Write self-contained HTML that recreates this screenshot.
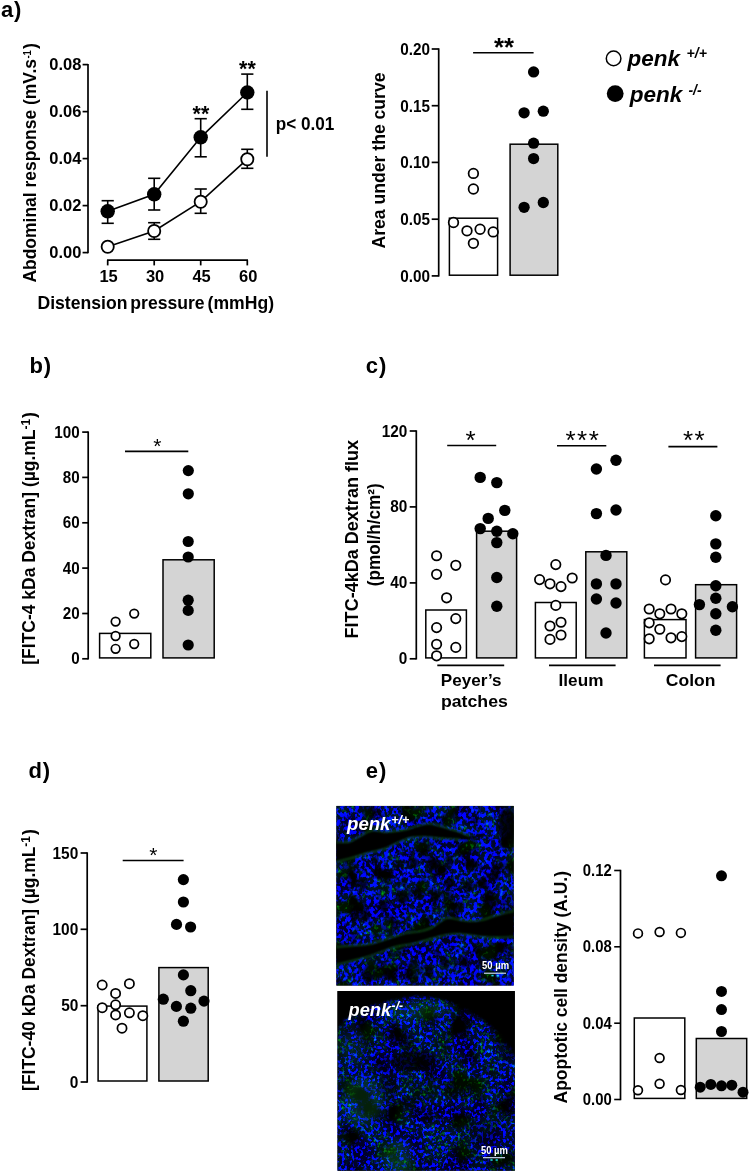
<!DOCTYPE html><html><head><meta charset="utf-8"><title>figure</title><style>html,body{margin:0;padding:0;background:#fff}svg{display:block;will-change:transform}</style></head><body>
<svg width="750" height="1172" viewBox="0 0 750 1172">
<rect width="750" height="1172" fill="#fff"/>
<text font-family="Liberation Sans, Arial, sans-serif" font-size="22" font-weight="bold" fill="#000" text-anchor="start" x="0.9" y="16.8" letter-spacing="0.9">a)</text>
<text font-family="Liberation Sans, Arial, sans-serif" font-size="22" font-weight="bold" fill="#000" text-anchor="start" x="29.4" y="373.4" letter-spacing="0.9">b)</text>
<text font-family="Liberation Sans, Arial, sans-serif" font-size="22" font-weight="bold" fill="#000" text-anchor="start" x="365.8" y="373.3" letter-spacing="0.9">c)</text>
<text font-family="Liberation Sans, Arial, sans-serif" font-size="22" font-weight="bold" fill="#000" text-anchor="start" x="28.4" y="778.1" letter-spacing="0.9">d)</text>
<text font-family="Liberation Sans, Arial, sans-serif" font-size="22" font-weight="bold" fill="#000" text-anchor="start" x="365.8" y="777.9" letter-spacing="0.9">e)</text>
<line x1="88" y1="63.89999999999999" x2="88" y2="253.29999999999998" stroke="#000" stroke-width="1.7" stroke-linecap="butt"/>
<line x1="82.6" y1="64.6" x2="88" y2="64.6" stroke="#000" stroke-width="1.7" stroke-linecap="butt"/>
<text font-family="Liberation Sans, Arial, sans-serif" font-size="16" font-weight="bold" fill="#000" text-anchor="end" textLength="32.08" lengthAdjust="spacingAndGlyphs" x="81.3" y="70.19999999999999" >0.08</text>
<line x1="82.6" y1="111.6" x2="88" y2="111.6" stroke="#000" stroke-width="1.7" stroke-linecap="butt"/>
<text font-family="Liberation Sans, Arial, sans-serif" font-size="16" font-weight="bold" fill="#000" text-anchor="end" textLength="32.08" lengthAdjust="spacingAndGlyphs" x="81.3" y="117.19999999999999" >0.06</text>
<line x1="82.6" y1="158.6" x2="88" y2="158.6" stroke="#000" stroke-width="1.7" stroke-linecap="butt"/>
<text font-family="Liberation Sans, Arial, sans-serif" font-size="16" font-weight="bold" fill="#000" text-anchor="end" textLength="32.08" lengthAdjust="spacingAndGlyphs" x="81.3" y="164.2" >0.04</text>
<line x1="82.6" y1="205.6" x2="88" y2="205.6" stroke="#000" stroke-width="1.7" stroke-linecap="butt"/>
<text font-family="Liberation Sans, Arial, sans-serif" font-size="16" font-weight="bold" fill="#000" text-anchor="end" textLength="32.08" lengthAdjust="spacingAndGlyphs" x="81.3" y="211.2" >0.02</text>
<line x1="82.6" y1="252.6" x2="88" y2="252.6" stroke="#000" stroke-width="1.7" stroke-linecap="butt"/>
<text font-family="Liberation Sans, Arial, sans-serif" font-size="16" font-weight="bold" fill="#000" text-anchor="end" textLength="32.08" lengthAdjust="spacingAndGlyphs" x="81.3" y="258.2" >0.00</text>
<line x1="107.0" y1="260.2" x2="248.0" y2="260.2" stroke="#000" stroke-width="1.7" stroke-linecap="butt"/>
<line x1="107.7" y1="260.2" x2="107.7" y2="265.4" stroke="#000" stroke-width="1.7" stroke-linecap="butt"/>
<text font-family="Liberation Sans, Arial, sans-serif" font-size="16" font-weight="bold" fill="#000" text-anchor="middle" textLength="18.33" lengthAdjust="spacingAndGlyphs" x="108.60000000000001" y="282.2" >15</text>
<line x1="154.2" y1="260.2" x2="154.2" y2="265.4" stroke="#000" stroke-width="1.7" stroke-linecap="butt"/>
<text font-family="Liberation Sans, Arial, sans-serif" font-size="16" font-weight="bold" fill="#000" text-anchor="middle" textLength="18.33" lengthAdjust="spacingAndGlyphs" x="155.1" y="282.2" >30</text>
<line x1="200.7" y1="260.2" x2="200.7" y2="265.4" stroke="#000" stroke-width="1.7" stroke-linecap="butt"/>
<text font-family="Liberation Sans, Arial, sans-serif" font-size="16" font-weight="bold" fill="#000" text-anchor="middle" textLength="18.33" lengthAdjust="spacingAndGlyphs" x="201.6" y="282.2" >45</text>
<line x1="247.3" y1="260.2" x2="247.3" y2="265.4" stroke="#000" stroke-width="1.7" stroke-linecap="butt"/>
<text font-family="Liberation Sans, Arial, sans-serif" font-size="16" font-weight="bold" fill="#000" text-anchor="middle" textLength="18.33" lengthAdjust="spacingAndGlyphs" x="248.20000000000002" y="282.2" >60</text>
<text font-family="Liberation Sans, Arial, sans-serif" font-size="18.1" font-weight="bold" fill="#000" text-anchor="start" textLength="236.5" lengthAdjust="spacingAndGlyphs" x="37.5" y="309.3" word-spacing="-2">Distension pressure (mmHg)</text>
<text font-family="Liberation Sans, Arial, sans-serif" font-size="18.1" font-weight="bold" fill="#000" text-anchor="start" textLength="223.6" lengthAdjust="spacingAndGlyphs" transform="translate(36,282.6) rotate(-90)" >Abdominal response (mV.s</text>
<text font-family="Liberation Sans, Arial, sans-serif" font-size="11" font-weight="bold" fill="#000" text-anchor="start" textLength="8.6" lengthAdjust="spacingAndGlyphs" transform="translate(30.6,58.6) rotate(-90)" >-1</text>
<text font-family="Liberation Sans, Arial, sans-serif" font-size="18.1" font-weight="bold" fill="#000" text-anchor="start" transform="translate(36,48.9) rotate(-90)" >)</text>
<polyline fill="none" stroke="#000" stroke-width="1.6" points="107.7,246.7 154.2,231 200.7,201.7 247.3,159.2"/>
<polyline fill="none" stroke="#000" stroke-width="1.6" points="107.7,211.3 154.2,194.3 200.7,137.3 247.3,92.5"/>
<line x1="154.2" y1="222.7" x2="154.2" y2="239.3" stroke="#000" stroke-width="1.6" stroke-linecap="butt"/>
<line x1="148.1" y1="222.7" x2="160.29999999999998" y2="222.7" stroke="#000" stroke-width="1.6" stroke-linecap="butt"/>
<line x1="148.1" y1="239.3" x2="160.29999999999998" y2="239.3" stroke="#000" stroke-width="1.6" stroke-linecap="butt"/>
<line x1="200.7" y1="189" x2="200.7" y2="213.3" stroke="#000" stroke-width="1.6" stroke-linecap="butt"/>
<line x1="194.6" y1="189" x2="206.79999999999998" y2="189" stroke="#000" stroke-width="1.6" stroke-linecap="butt"/>
<line x1="194.6" y1="213.3" x2="206.79999999999998" y2="213.3" stroke="#000" stroke-width="1.6" stroke-linecap="butt"/>
<line x1="247.3" y1="149.3" x2="247.3" y2="168.3" stroke="#000" stroke-width="1.6" stroke-linecap="butt"/>
<line x1="241.20000000000002" y1="149.3" x2="253.4" y2="149.3" stroke="#000" stroke-width="1.6" stroke-linecap="butt"/>
<line x1="241.20000000000002" y1="168.3" x2="253.4" y2="168.3" stroke="#000" stroke-width="1.6" stroke-linecap="butt"/>
<line x1="107.7" y1="200.7" x2="107.7" y2="223.3" stroke="#000" stroke-width="1.6" stroke-linecap="butt"/>
<line x1="101.60000000000001" y1="200.7" x2="113.8" y2="200.7" stroke="#000" stroke-width="1.6" stroke-linecap="butt"/>
<line x1="101.60000000000001" y1="223.3" x2="113.8" y2="223.3" stroke="#000" stroke-width="1.6" stroke-linecap="butt"/>
<line x1="154.2" y1="178.3" x2="154.2" y2="210" stroke="#000" stroke-width="1.6" stroke-linecap="butt"/>
<line x1="148.1" y1="178.3" x2="160.29999999999998" y2="178.3" stroke="#000" stroke-width="1.6" stroke-linecap="butt"/>
<line x1="148.1" y1="210" x2="160.29999999999998" y2="210" stroke="#000" stroke-width="1.6" stroke-linecap="butt"/>
<line x1="200.7" y1="118.7" x2="200.7" y2="156.8" stroke="#000" stroke-width="1.6" stroke-linecap="butt"/>
<line x1="194.6" y1="118.7" x2="206.79999999999998" y2="118.7" stroke="#000" stroke-width="1.6" stroke-linecap="butt"/>
<line x1="194.6" y1="156.8" x2="206.79999999999998" y2="156.8" stroke="#000" stroke-width="1.6" stroke-linecap="butt"/>
<line x1="247.3" y1="74.1" x2="247.3" y2="109.3" stroke="#000" stroke-width="1.6" stroke-linecap="butt"/>
<line x1="241.20000000000002" y1="74.1" x2="253.4" y2="74.1" stroke="#000" stroke-width="1.6" stroke-linecap="butt"/>
<line x1="241.20000000000002" y1="109.3" x2="253.4" y2="109.3" stroke="#000" stroke-width="1.6" stroke-linecap="butt"/>
<circle cx="107.7" cy="246.7" r="6.1" fill="#fff" stroke="#000" stroke-width="1.8"/>
<circle cx="154.2" cy="231" r="6.1" fill="#fff" stroke="#000" stroke-width="1.8"/>
<circle cx="200.7" cy="201.7" r="6.1" fill="#fff" stroke="#000" stroke-width="1.8"/>
<circle cx="247.3" cy="159.2" r="6.1" fill="#fff" stroke="#000" stroke-width="1.8"/>
<circle cx="107.7" cy="211.3" r="7.2" fill="#000"/>
<circle cx="154.2" cy="194.3" r="7.2" fill="#000"/>
<circle cx="200.7" cy="137.3" r="7.2" fill="#000"/>
<circle cx="247.3" cy="92.5" r="7.2" fill="#000"/>
<text font-family="Liberation Sans, Arial, sans-serif" font-size="22" font-weight="bold" fill="#000" text-anchor="middle" textLength="16.6" lengthAdjust="spacingAndGlyphs" x="200.9" y="121" >**</text>
<text font-family="Liberation Sans, Arial, sans-serif" font-size="22" font-weight="bold" fill="#000" text-anchor="middle" textLength="16.6" lengthAdjust="spacingAndGlyphs" x="247.4" y="75.8" >**</text>
<line x1="267" y1="90.7" x2="267" y2="156.8" stroke="#000" stroke-width="1.6" stroke-linecap="butt"/>
<text font-family="Liberation Sans, Arial, sans-serif" font-size="17.8" font-weight="bold" fill="#000" text-anchor="start" textLength="58.6" lengthAdjust="spacingAndGlyphs" x="275.7" y="130.1" >p&lt; 0.01</text>
<line x1="438.7" y1="48.3" x2="438.7" y2="276.59999999999997" stroke="#000" stroke-width="1.7" stroke-linecap="butt"/>
<line x1="431.7" y1="49" x2="438.7" y2="49" stroke="#000" stroke-width="1.7" stroke-linecap="butt"/>
<text font-family="Liberation Sans, Arial, sans-serif" font-size="16" font-weight="bold" fill="#000" text-anchor="end" textLength="29.74" lengthAdjust="spacingAndGlyphs" x="429.9" y="54.9" >0.20</text>
<line x1="431.7" y1="105.7" x2="438.7" y2="105.7" stroke="#000" stroke-width="1.7" stroke-linecap="butt"/>
<text font-family="Liberation Sans, Arial, sans-serif" font-size="16" font-weight="bold" fill="#000" text-anchor="end" textLength="29.74" lengthAdjust="spacingAndGlyphs" x="429.9" y="111.60000000000001" >0.15</text>
<line x1="431.7" y1="162.4" x2="438.7" y2="162.4" stroke="#000" stroke-width="1.7" stroke-linecap="butt"/>
<text font-family="Liberation Sans, Arial, sans-serif" font-size="16" font-weight="bold" fill="#000" text-anchor="end" textLength="29.74" lengthAdjust="spacingAndGlyphs" x="429.9" y="168.3" >0.10</text>
<line x1="431.7" y1="219.2" x2="438.7" y2="219.2" stroke="#000" stroke-width="1.7" stroke-linecap="butt"/>
<text font-family="Liberation Sans, Arial, sans-serif" font-size="16" font-weight="bold" fill="#000" text-anchor="end" textLength="29.74" lengthAdjust="spacingAndGlyphs" x="429.9" y="225.1" >0.05</text>
<line x1="431.7" y1="275.9" x2="438.7" y2="275.9" stroke="#000" stroke-width="1.7" stroke-linecap="butt"/>
<text font-family="Liberation Sans, Arial, sans-serif" font-size="16" font-weight="bold" fill="#000" text-anchor="end" textLength="29.74" lengthAdjust="spacingAndGlyphs" x="429.9" y="281.79999999999995" >0.00</text>
<rect x="449.4" y="218.2" width="48.200000000000045" height="57.0" fill="#fff" stroke="#000" stroke-width="1.5"/>
<rect x="510.1" y="144.2" width="47.69999999999993" height="131.0" fill="#d4d4d4" stroke="#000" stroke-width="1.5"/>
<circle cx="473.4" cy="173.4" r="4.8" fill="#fff" stroke="#000" stroke-width="1.75"/>
<circle cx="473.4" cy="189" r="4.8" fill="#fff" stroke="#000" stroke-width="1.75"/>
<circle cx="453.5" cy="222.5" r="4.8" fill="#fff" stroke="#000" stroke-width="1.75"/>
<circle cx="467" cy="230.8" r="4.8" fill="#fff" stroke="#000" stroke-width="1.75"/>
<circle cx="480.1" cy="229.2" r="4.8" fill="#fff" stroke="#000" stroke-width="1.75"/>
<circle cx="493.2" cy="231.9" r="4.8" fill="#fff" stroke="#000" stroke-width="1.75"/>
<circle cx="473.4" cy="243.3" r="4.8" fill="#fff" stroke="#000" stroke-width="1.75"/>
<circle cx="533.6" cy="71.9" r="5.65" fill="#000"/>
<circle cx="524.1" cy="112.8" r="5.65" fill="#000"/>
<circle cx="543.3" cy="111.2" r="5.65" fill="#000"/>
<circle cx="533.6" cy="143.2" r="5.65" fill="#000"/>
<circle cx="533.6" cy="158.6" r="5.65" fill="#000"/>
<circle cx="524.1" cy="207.3" r="5.65" fill="#000"/>
<circle cx="543.3" cy="202.5" r="5.65" fill="#000"/>
<line x1="473.1" y1="52.7" x2="533.6" y2="52.7" stroke="#000" stroke-width="1.6" stroke-linecap="butt"/>
<text font-family="Liberation Sans, Arial, sans-serif" font-size="25" font-weight="bold" fill="#000" text-anchor="middle" textLength="20" lengthAdjust="spacingAndGlyphs" x="504" y="55.8" >**</text>
<text font-family="Liberation Sans, Arial, sans-serif" font-size="18.1" font-weight="bold" fill="#000" text-anchor="start" textLength="176" lengthAdjust="spacingAndGlyphs" transform="translate(384.9,248.5) rotate(-90)" >Area under the curve</text>
<circle cx="613.6" cy="58.4" r="7.3" fill="#fff" stroke="#000" stroke-width="1.5"/>
<circle cx="615.2" cy="93.6" r="8.4" fill="#000"/>
<text font-family="Liberation Sans, Arial, sans-serif" font-size="22.3" font-weight="bold" fill="#000" text-anchor="start" font-style="italic" textLength="52.4" lengthAdjust="spacingAndGlyphs" x="627.5" y="65.5" >penk</text>
<text font-family="Liberation Sans, Arial, sans-serif" font-size="14.5" font-weight="bold" fill="#000" text-anchor="start" font-style="italic" textLength="20.4" lengthAdjust="spacingAndGlyphs" x="686.6" y="58.4" >+/+</text>
<text font-family="Liberation Sans, Arial, sans-serif" font-size="22.3" font-weight="bold" fill="#000" text-anchor="start" font-style="italic" textLength="52.6" lengthAdjust="spacingAndGlyphs" x="629.7" y="101.9" >penk</text>
<text font-family="Liberation Sans, Arial, sans-serif" font-size="14.5" font-weight="bold" fill="#000" text-anchor="start" font-style="italic" textLength="13.2" lengthAdjust="spacingAndGlyphs" x="688.4" y="94.6" >-/-</text>
<line x1="88.2" y1="431.40000000000003" x2="88.2" y2="659.5" stroke="#000" stroke-width="1.7" stroke-linecap="butt"/>
<line x1="82.2" y1="432.1" x2="88.2" y2="432.1" stroke="#000" stroke-width="1.7" stroke-linecap="butt"/>
<text font-family="Liberation Sans, Arial, sans-serif" font-size="16" font-weight="bold" fill="#000" text-anchor="end" textLength="25.36" lengthAdjust="spacingAndGlyphs" x="79.7" y="437.5" >100</text>
<line x1="82.2" y1="477.4" x2="88.2" y2="477.4" stroke="#000" stroke-width="1.7" stroke-linecap="butt"/>
<text font-family="Liberation Sans, Arial, sans-serif" font-size="16" font-weight="bold" fill="#000" text-anchor="end" textLength="16.91" lengthAdjust="spacingAndGlyphs" x="79.7" y="482.79999999999995" >80</text>
<line x1="82.2" y1="522.8" x2="88.2" y2="522.8" stroke="#000" stroke-width="1.7" stroke-linecap="butt"/>
<text font-family="Liberation Sans, Arial, sans-serif" font-size="16" font-weight="bold" fill="#000" text-anchor="end" textLength="16.91" lengthAdjust="spacingAndGlyphs" x="79.7" y="528.1999999999999" >60</text>
<line x1="82.2" y1="568.1" x2="88.2" y2="568.1" stroke="#000" stroke-width="1.7" stroke-linecap="butt"/>
<text font-family="Liberation Sans, Arial, sans-serif" font-size="16" font-weight="bold" fill="#000" text-anchor="end" textLength="16.91" lengthAdjust="spacingAndGlyphs" x="79.7" y="573.5" >40</text>
<line x1="82.2" y1="613.5" x2="88.2" y2="613.5" stroke="#000" stroke-width="1.7" stroke-linecap="butt"/>
<text font-family="Liberation Sans, Arial, sans-serif" font-size="16" font-weight="bold" fill="#000" text-anchor="end" textLength="16.91" lengthAdjust="spacingAndGlyphs" x="79.7" y="618.9" >20</text>
<line x1="82.2" y1="658.8" x2="88.2" y2="658.8" stroke="#000" stroke-width="1.7" stroke-linecap="butt"/>
<text font-family="Liberation Sans, Arial, sans-serif" font-size="16" font-weight="bold" fill="#000" text-anchor="end" textLength="8.45" lengthAdjust="spacingAndGlyphs" x="79.7" y="664.1999999999999" >0</text>
<rect x="99.6" y="633.4" width="51.20000000000002" height="24.5" fill="#fff" stroke="#000" stroke-width="1.5"/>
<rect x="163" y="559.8" width="51.19999999999999" height="98.10000000000002" fill="#d4d4d4" stroke="#000" stroke-width="1.5"/>
<circle cx="115.6" cy="621.6" r="4.3" fill="#fff" stroke="#000" stroke-width="1.7"/>
<circle cx="134.2" cy="613.6" r="4.3" fill="#fff" stroke="#000" stroke-width="1.7"/>
<circle cx="115.6" cy="636" r="4.3" fill="#fff" stroke="#000" stroke-width="1.7"/>
<circle cx="134.2" cy="644" r="4.3" fill="#fff" stroke="#000" stroke-width="1.7"/>
<circle cx="115.6" cy="648.8" r="4.3" fill="#fff" stroke="#000" stroke-width="1.7"/>
<circle cx="188.3" cy="470.6" r="5.6" fill="#000"/>
<circle cx="188.3" cy="493.8" r="5.6" fill="#000"/>
<circle cx="188.2" cy="541.5" r="5.6" fill="#000"/>
<circle cx="188.2" cy="557" r="5.6" fill="#000"/>
<circle cx="188.2" cy="600.2" r="5.6" fill="#000"/>
<circle cx="188.2" cy="610.4" r="5.6" fill="#000"/>
<circle cx="188.2" cy="645" r="5.6" fill="#000"/>
<line x1="125" y1="451.4" x2="188.3" y2="451.4" stroke="#000" stroke-width="1.6" stroke-linecap="butt"/>
<text font-family="Liberation Sans, Arial, sans-serif" font-size="21" font-weight="normal" fill="#000" text-anchor="start" x="153.3" y="452.9" >*</text>
<text font-family="Liberation Sans, Arial, sans-serif" font-size="17.8" font-weight="bold" fill="#000" text-anchor="start" textLength="235.2" lengthAdjust="spacingAndGlyphs" transform="translate(34.8,664.7) rotate(-90)" >[FITC-4 kDa Dextran] (µg.mL</text>
<text font-family="Liberation Sans, Arial, sans-serif" font-size="12" font-weight="bold" fill="#000" text-anchor="start" transform="translate(29.7,429.6) rotate(-90)" >-1</text>
<text font-family="Liberation Sans, Arial, sans-serif" font-size="17.8" font-weight="bold" fill="#000" text-anchor="start" transform="translate(34.8,417.9) rotate(-90)" >)</text>
<line x1="416.3" y1="430.3" x2="416.3" y2="659.5" stroke="#000" stroke-width="1.7" stroke-linecap="butt"/>
<line x1="409.7" y1="431" x2="416.3" y2="431" stroke="#000" stroke-width="1.7" stroke-linecap="butt"/>
<text font-family="Liberation Sans, Arial, sans-serif" font-size="16" font-weight="bold" fill="#000" text-anchor="end" textLength="25.63" lengthAdjust="spacingAndGlyphs" x="407.3" y="436.5" >120</text>
<line x1="409.7" y1="506.9" x2="416.3" y2="506.9" stroke="#000" stroke-width="1.7" stroke-linecap="butt"/>
<text font-family="Liberation Sans, Arial, sans-serif" font-size="16" font-weight="bold" fill="#000" text-anchor="end" textLength="17.09" lengthAdjust="spacingAndGlyphs" x="407.3" y="512.4" >80</text>
<line x1="409.7" y1="582.9" x2="416.3" y2="582.9" stroke="#000" stroke-width="1.7" stroke-linecap="butt"/>
<text font-family="Liberation Sans, Arial, sans-serif" font-size="16" font-weight="bold" fill="#000" text-anchor="end" textLength="17.09" lengthAdjust="spacingAndGlyphs" x="407.3" y="588.4" >40</text>
<line x1="409.7" y1="658.8" x2="416.3" y2="658.8" stroke="#000" stroke-width="1.7" stroke-linecap="butt"/>
<text font-family="Liberation Sans, Arial, sans-serif" font-size="16" font-weight="bold" fill="#000" text-anchor="end" textLength="8.54" lengthAdjust="spacingAndGlyphs" x="407.3" y="664.3" >0</text>
<rect x="425.8" y="610" width="40.599999999999966" height="47.89999999999998" fill="#fff" stroke="#000" stroke-width="1.5"/>
<rect x="476.6" y="531.2" width="40.0" height="126.69999999999993" fill="#d4d4d4" stroke="#000" stroke-width="1.5"/>
<rect x="535.4" y="602.5" width="40.80000000000007" height="55.39999999999998" fill="#fff" stroke="#000" stroke-width="1.5"/>
<rect x="585.8" y="551.8" width="41.0" height="106.10000000000002" fill="#d4d4d4" stroke="#000" stroke-width="1.5"/>
<rect x="644.4" y="619.6" width="41.60000000000002" height="38.299999999999955" fill="#fff" stroke="#000" stroke-width="1.5"/>
<rect x="695.6" y="584.7" width="41.0" height="73.19999999999993" fill="#d4d4d4" stroke="#000" stroke-width="1.5"/>
<circle cx="436.6" cy="555.7" r="4.7" fill="#fff" stroke="#000" stroke-width="1.75"/>
<circle cx="436.6" cy="574.3" r="4.7" fill="#fff" stroke="#000" stroke-width="1.75"/>
<circle cx="455.8" cy="565.3" r="4.7" fill="#fff" stroke="#000" stroke-width="1.75"/>
<circle cx="446.6" cy="597.8" r="4.7" fill="#fff" stroke="#000" stroke-width="1.75"/>
<circle cx="455.8" cy="618.6" r="4.7" fill="#fff" stroke="#000" stroke-width="1.75"/>
<circle cx="436.6" cy="627.6" r="4.7" fill="#fff" stroke="#000" stroke-width="1.75"/>
<circle cx="436.6" cy="644.2" r="4.7" fill="#fff" stroke="#000" stroke-width="1.75"/>
<circle cx="455.8" cy="647.4" r="4.7" fill="#fff" stroke="#000" stroke-width="1.75"/>
<circle cx="436.6" cy="655.8" r="4.7" fill="#fff" stroke="#000" stroke-width="1.75"/>
<circle cx="555.8" cy="564.6" r="4.7" fill="#fff" stroke="#000" stroke-width="1.75"/>
<circle cx="539.6" cy="579.6" r="4.7" fill="#fff" stroke="#000" stroke-width="1.75"/>
<circle cx="550" cy="583.8" r="4.7" fill="#fff" stroke="#000" stroke-width="1.75"/>
<circle cx="561" cy="586.6" r="4.7" fill="#fff" stroke="#000" stroke-width="1.75"/>
<circle cx="572.2" cy="578" r="4.7" fill="#fff" stroke="#000" stroke-width="1.75"/>
<circle cx="555.8" cy="605.4" r="4.7" fill="#fff" stroke="#000" stroke-width="1.75"/>
<circle cx="561" cy="622.2" r="4.7" fill="#fff" stroke="#000" stroke-width="1.75"/>
<circle cx="550" cy="626" r="4.7" fill="#fff" stroke="#000" stroke-width="1.75"/>
<circle cx="561" cy="635" r="4.7" fill="#fff" stroke="#000" stroke-width="1.75"/>
<circle cx="550" cy="639.4" r="4.7" fill="#fff" stroke="#000" stroke-width="1.75"/>
<circle cx="665.5" cy="579.9" r="4.7" fill="#fff" stroke="#000" stroke-width="1.75"/>
<circle cx="649.2" cy="609" r="4.7" fill="#fff" stroke="#000" stroke-width="1.75"/>
<circle cx="659.8" cy="613.8" r="4.7" fill="#fff" stroke="#000" stroke-width="1.75"/>
<circle cx="671" cy="609" r="4.7" fill="#fff" stroke="#000" stroke-width="1.75"/>
<circle cx="681.8" cy="613.8" r="4.7" fill="#fff" stroke="#000" stroke-width="1.75"/>
<circle cx="649.2" cy="622.8" r="4.7" fill="#fff" stroke="#000" stroke-width="1.75"/>
<circle cx="659.8" cy="629.2" r="4.7" fill="#fff" stroke="#000" stroke-width="1.75"/>
<circle cx="649.2" cy="638.8" r="4.7" fill="#fff" stroke="#000" stroke-width="1.75"/>
<circle cx="671" cy="637.8" r="4.7" fill="#fff" stroke="#000" stroke-width="1.75"/>
<circle cx="681.8" cy="636.6" r="4.7" fill="#fff" stroke="#000" stroke-width="1.75"/>
<circle cx="480.2" cy="477.4" r="5.7" fill="#000"/>
<circle cx="496.8" cy="482.6" r="5.7" fill="#000"/>
<circle cx="504.8" cy="510.4" r="5.7" fill="#000"/>
<circle cx="488.2" cy="518.4" r="5.7" fill="#000"/>
<circle cx="480.2" cy="528.6" r="5.7" fill="#000"/>
<circle cx="496.8" cy="531.2" r="5.7" fill="#000"/>
<circle cx="512.8" cy="533.8" r="5.7" fill="#000"/>
<circle cx="496.8" cy="542.6" r="5.7" fill="#000"/>
<circle cx="496.8" cy="577.5" r="5.7" fill="#000"/>
<circle cx="496.8" cy="606.2" r="5.7" fill="#000"/>
<circle cx="596.4" cy="469" r="5.7" fill="#000"/>
<circle cx="616" cy="460.2" r="5.7" fill="#000"/>
<circle cx="596.4" cy="513.6" r="5.7" fill="#000"/>
<circle cx="616" cy="510" r="5.7" fill="#000"/>
<circle cx="606" cy="555.4" r="5.7" fill="#000"/>
<circle cx="596.4" cy="583.9" r="5.7" fill="#000"/>
<circle cx="616" cy="583.9" r="5.7" fill="#000"/>
<circle cx="596.4" cy="599" r="5.7" fill="#000"/>
<circle cx="616" cy="603" r="5.7" fill="#000"/>
<circle cx="606" cy="633" r="5.7" fill="#000"/>
<circle cx="715.8" cy="515.8" r="5.7" fill="#000"/>
<circle cx="715.8" cy="543.9" r="5.7" fill="#000"/>
<circle cx="715.8" cy="557.3" r="5.7" fill="#000"/>
<circle cx="715.8" cy="585.8" r="5.7" fill="#000"/>
<circle cx="715.8" cy="598.2" r="5.7" fill="#000"/>
<circle cx="699.4" cy="604.6" r="5.7" fill="#000"/>
<circle cx="732.4" cy="606.8" r="5.7" fill="#000"/>
<circle cx="715.8" cy="613.8" r="5.7" fill="#000"/>
<circle cx="715.8" cy="630.2" r="5.7" fill="#000"/>
<line x1="447.2" y1="445.5" x2="496.2" y2="445.5" stroke="#000" stroke-width="1.6" stroke-linecap="butt"/>
<line x1="557" y1="445.7" x2="606.3" y2="445.7" stroke="#000" stroke-width="1.6" stroke-linecap="butt"/>
<line x1="668.4" y1="446.6" x2="717.4" y2="446.6" stroke="#000" stroke-width="1.6" stroke-linecap="butt"/>
<text font-family="Liberation Sans, Arial, sans-serif" font-size="26" font-weight="normal" fill="#000" text-anchor="start" x="465.5" y="448.8" >*</text>
<text font-family="Liberation Sans, Arial, sans-serif" font-size="26" font-weight="normal" fill="#000" text-anchor="start" x="565.5" y="448.8" letter-spacing="1.5">***</text>
<text font-family="Liberation Sans, Arial, sans-serif" font-size="26" font-weight="normal" fill="#000" text-anchor="start" x="682.9" y="449.3" letter-spacing="1.5">**</text>
<line x1="437.3" y1="665.4" x2="504.2" y2="665.4" stroke="#000" stroke-width="1.6" stroke-linecap="butt"/>
<line x1="549" y1="665.4" x2="615.6" y2="665.4" stroke="#000" stroke-width="1.6" stroke-linecap="butt"/>
<line x1="654" y1="665.4" x2="720.6" y2="665.4" stroke="#000" stroke-width="1.6" stroke-linecap="butt"/>
<text font-family="Liberation Sans, Arial, sans-serif" font-size="17.3" font-weight="bold" fill="#000" text-anchor="middle" textLength="60.8" lengthAdjust="spacingAndGlyphs" x="471.2" y="685.8" >Peyer’s</text>
<text font-family="Liberation Sans, Arial, sans-serif" font-size="17.3" font-weight="bold" fill="#000" text-anchor="middle" textLength="67" lengthAdjust="spacingAndGlyphs" x="474.4" y="707" >patches</text>
<text font-family="Liberation Sans, Arial, sans-serif" font-size="17.3" font-weight="bold" fill="#000" text-anchor="middle" textLength="44.8" lengthAdjust="spacingAndGlyphs" x="581" y="685.8" >Ileum</text>
<text font-family="Liberation Sans, Arial, sans-serif" font-size="17.3" font-weight="bold" fill="#000" text-anchor="middle" textLength="49.6" lengthAdjust="spacingAndGlyphs" x="690.6" y="685.8" >Colon</text>
<text font-family="Liberation Sans, Arial, sans-serif" font-size="18.1" font-weight="bold" fill="#000" text-anchor="start" textLength="198.4" lengthAdjust="spacingAndGlyphs" transform="translate(357.7,638.4) rotate(-90)" >FITC-4kDa Dextran flux</text>
<text font-family="Liberation Sans, Arial, sans-serif" font-size="18.1" font-weight="bold" fill="#000" text-anchor="start" textLength="103.1" lengthAdjust="spacingAndGlyphs" transform="translate(379.9,586.3) rotate(-90)" >(pmol/h/cm²)</text>
<line x1="87.2" y1="852.3" x2="87.2" y2="1082.7" stroke="#000" stroke-width="1.7" stroke-linecap="butt"/>
<line x1="80.60000000000001" y1="853" x2="87.2" y2="853" stroke="#000" stroke-width="1.7" stroke-linecap="butt"/>
<text font-family="Liberation Sans, Arial, sans-serif" font-size="16" font-weight="bold" fill="#000" text-anchor="end" textLength="25.76" lengthAdjust="spacingAndGlyphs" x="78.3" y="858.5" >150</text>
<line x1="80.60000000000001" y1="929.3" x2="87.2" y2="929.3" stroke="#000" stroke-width="1.7" stroke-linecap="butt"/>
<text font-family="Liberation Sans, Arial, sans-serif" font-size="16" font-weight="bold" fill="#000" text-anchor="end" textLength="25.76" lengthAdjust="spacingAndGlyphs" x="78.3" y="934.8" >100</text>
<line x1="80.60000000000001" y1="1005.7" x2="87.2" y2="1005.7" stroke="#000" stroke-width="1.7" stroke-linecap="butt"/>
<text font-family="Liberation Sans, Arial, sans-serif" font-size="16" font-weight="bold" fill="#000" text-anchor="end" textLength="17.17" lengthAdjust="spacingAndGlyphs" x="78.3" y="1011.2" >50</text>
<line x1="80.60000000000001" y1="1082" x2="87.2" y2="1082" stroke="#000" stroke-width="1.7" stroke-linecap="butt"/>
<text font-family="Liberation Sans, Arial, sans-serif" font-size="16" font-weight="bold" fill="#000" text-anchor="end" textLength="8.59" lengthAdjust="spacingAndGlyphs" x="78.3" y="1087.5" >0</text>
<rect x="98.1" y="1006.1" width="48.80000000000001" height="74.89999999999998" fill="#fff" stroke="#000" stroke-width="1.5"/>
<rect x="158.9" y="967.6" width="49.29999999999998" height="113.39999999999998" fill="#d4d4d4" stroke="#000" stroke-width="1.5"/>
<circle cx="102.2" cy="985" r="4.6" fill="#fff" stroke="#000" stroke-width="1.75"/>
<circle cx="129.4" cy="983.7" r="4.6" fill="#fff" stroke="#000" stroke-width="1.75"/>
<circle cx="115.6" cy="993.4" r="4.6" fill="#fff" stroke="#000" stroke-width="1.75"/>
<circle cx="102.2" cy="1007.7" r="4.6" fill="#fff" stroke="#000" stroke-width="1.75"/>
<circle cx="115.6" cy="1004.8" r="4.6" fill="#fff" stroke="#000" stroke-width="1.75"/>
<circle cx="115.6" cy="1014.9" r="4.6" fill="#fff" stroke="#000" stroke-width="1.75"/>
<circle cx="129.4" cy="1012.8" r="4.6" fill="#fff" stroke="#000" stroke-width="1.75"/>
<circle cx="142.8" cy="1015.7" r="4.6" fill="#fff" stroke="#000" stroke-width="1.75"/>
<circle cx="122" cy="1028.2" r="4.6" fill="#fff" stroke="#000" stroke-width="1.75"/>
<circle cx="183.4" cy="879.6" r="5.6" fill="#000"/>
<circle cx="183.4" cy="902" r="5.6" fill="#000"/>
<circle cx="176.5" cy="924.4" r="5.6" fill="#000"/>
<circle cx="190.6" cy="927" r="5.6" fill="#000"/>
<circle cx="183.4" cy="974.9" r="5.6" fill="#000"/>
<circle cx="190.8" cy="990.7" r="5.6" fill="#000"/>
<circle cx="163.3" cy="999.2" r="5.6" fill="#000"/>
<circle cx="204" cy="1001.1" r="5.6" fill="#000"/>
<circle cx="176.4" cy="1006.4" r="5.6" fill="#000"/>
<circle cx="190.8" cy="1008.2" r="5.6" fill="#000"/>
<circle cx="183.4" cy="1021.2" r="5.6" fill="#000"/>
<line x1="122.7" y1="860.5" x2="183.6" y2="860.5" stroke="#000" stroke-width="1.6" stroke-linecap="butt"/>
<text font-family="Liberation Sans, Arial, sans-serif" font-size="21" font-weight="normal" fill="#000" text-anchor="start" x="149.3" y="861.8" >*</text>
<text font-family="Liberation Sans, Arial, sans-serif" font-size="17.8" font-weight="bold" fill="#000" text-anchor="start" textLength="244.3" lengthAdjust="spacingAndGlyphs" transform="translate(34.8,1090.9) rotate(-90)" >[FITC-40 kDa Dextran] (µg.mL</text>
<text font-family="Liberation Sans, Arial, sans-serif" font-size="12" font-weight="bold" fill="#000" text-anchor="start" transform="translate(29.7,846.7) rotate(-90)" >-1</text>
<text font-family="Liberation Sans, Arial, sans-serif" font-size="17.8" font-weight="bold" fill="#000" text-anchor="start" transform="translate(34.8,835) rotate(-90)" >)</text>
<line x1="620.5" y1="869.8" x2="620.5" y2="1100.2" stroke="#000" stroke-width="1.7" stroke-linecap="butt"/>
<line x1="614.2" y1="870.5" x2="620.5" y2="870.5" stroke="#000" stroke-width="1.6" stroke-linecap="butt"/>
<text font-family="Liberation Sans, Arial, sans-serif" font-size="16" font-weight="bold" fill="#000" text-anchor="end" textLength="28.96" lengthAdjust="spacingAndGlyphs" x="611.8" y="876.0" >0.12</text>
<line x1="614.2" y1="946.8" x2="620.5" y2="946.8" stroke="#000" stroke-width="1.6" stroke-linecap="butt"/>
<text font-family="Liberation Sans, Arial, sans-serif" font-size="16" font-weight="bold" fill="#000" text-anchor="end" textLength="28.96" lengthAdjust="spacingAndGlyphs" x="611.8" y="952.3" >0.08</text>
<line x1="614.2" y1="1023.2" x2="620.5" y2="1023.2" stroke="#000" stroke-width="1.6" stroke-linecap="butt"/>
<text font-family="Liberation Sans, Arial, sans-serif" font-size="16" font-weight="bold" fill="#000" text-anchor="end" textLength="28.96" lengthAdjust="spacingAndGlyphs" x="611.8" y="1028.7" >0.04</text>
<line x1="614.2" y1="1099.5" x2="620.5" y2="1099.5" stroke="#000" stroke-width="1.6" stroke-linecap="butt"/>
<text font-family="Liberation Sans, Arial, sans-serif" font-size="16" font-weight="bold" fill="#000" text-anchor="end" textLength="28.96" lengthAdjust="spacingAndGlyphs" x="611.8" y="1105.0" >0.00</text>
<rect x="634.3" y="1018" width="50.5" height="80.40000000000009" fill="#fff" stroke="#000" stroke-width="1.5"/>
<rect x="696.3" y="1038.5" width="50.40000000000009" height="59.90000000000009" fill="#d4d4d4" stroke="#000" stroke-width="1.5"/>
<circle cx="638" cy="933.4" r="4.4" fill="#fff" stroke="#000" stroke-width="1.7"/>
<circle cx="659.6" cy="932" r="4.4" fill="#fff" stroke="#000" stroke-width="1.7"/>
<circle cx="680.9" cy="932.9" r="4.4" fill="#fff" stroke="#000" stroke-width="1.7"/>
<circle cx="659.6" cy="1058" r="4.4" fill="#fff" stroke="#000" stroke-width="1.7"/>
<circle cx="659.6" cy="1083.8" r="4.4" fill="#fff" stroke="#000" stroke-width="1.7"/>
<circle cx="638" cy="1090.3" r="4.4" fill="#fff" stroke="#000" stroke-width="1.7"/>
<circle cx="680.9" cy="1090" r="4.4" fill="#fff" stroke="#000" stroke-width="1.7"/>
<circle cx="721.5" cy="875.8" r="5.5" fill="#000"/>
<circle cx="721.5" cy="991.4" r="5.5" fill="#000"/>
<circle cx="721.5" cy="1009.6" r="5.5" fill="#000"/>
<circle cx="721.5" cy="1031.5" r="5.5" fill="#000"/>
<circle cx="700.2" cy="1087.2" r="5.5" fill="#000"/>
<circle cx="710.8" cy="1084.4" r="5.5" fill="#000"/>
<circle cx="721.5" cy="1085.8" r="5.5" fill="#000"/>
<circle cx="731.8" cy="1085.2" r="5.5" fill="#000"/>
<circle cx="743" cy="1092.2" r="5.5" fill="#000"/>
<text font-family="Liberation Sans, Arial, sans-serif" font-size="18.1" font-weight="bold" fill="#000" text-anchor="start" textLength="232.4" lengthAdjust="spacingAndGlyphs" transform="translate(566.9,1103.4) rotate(-90)" >Apoptotic cell density (A.U.)</text>
<defs>
<filter id="cellA" x="0" y="0" width="100%" height="100%" color-interpolation-filters="sRGB">
<feTurbulence type="fractalNoise" baseFrequency="0.27 0.23" numOctaves="2" seed="7" result="n1"/>
<feColorMatrix in="n1" type="matrix" values="0 0 0 0 0.03  1.7 0 0 0 -0.97  0 0 6 0 -2.7  0 0 0 0 1" result="c1"/>
<feTurbulence type="fractalNoise" baseFrequency="0.05" numOctaves="2" seed="4" result="n2"/>
<feColorMatrix in="n2" type="matrix" values="0 0 0 0 0  0 3.5 0 0 -1.25  0 0 4.5 0 -1.35  0 0 0 0 1" result="c2"/>
<feComposite in="c1" in2="c2" operator="arithmetic" k1="1" k2="0" k3="0" k4="0" result="m"/><feColorMatrix in="c2" type="matrix" values="0 0 0 0 0  0 0.07 0 0 0  0 0 0.16 0 0  0 0 0 0 1" result="hz"/><feComposite in="m" in2="hz" operator="arithmetic" k1="0" k2="1" k3="1" k4="0" result="mm"/><feGaussianBlur in="mm" stdDeviation="0.45"/>
</filter>
<filter id="cellB" x="0" y="0" width="100%" height="100%" color-interpolation-filters="sRGB">
<feTurbulence type="fractalNoise" baseFrequency="0.31 0.28" numOctaves="2" seed="23" result="n1"/>
<feColorMatrix in="n1" type="matrix" values="0 0 0 0 0.02  1.7 0 0 0 -0.96  0 0 7 0 -3.55  0 0 0 0 1" result="c1"/>
<feTurbulence type="fractalNoise" baseFrequency="0.04" numOctaves="2" seed="11" result="n2"/>
<feColorMatrix in="n2" type="matrix" values="0 0 0 0 0  0 3.5 0 0 -1.15  0 0 4 0 -1.15  0 0 0 0 1" result="c2"/>
<feComposite in="c1" in2="c2" operator="arithmetic" k1="1" k2="0" k3="0" k4="0" result="m"/><feColorMatrix in="c2" type="matrix" values="0 0 0 0 0  0 0.07 0 0 0  0 0 0.16 0 0  0 0 0 0 1" result="hz"/><feComposite in="m" in2="hz" operator="arithmetic" k1="0" k2="1" k3="1" k4="0" result="mm"/><feGaussianBlur in="mm" stdDeviation="0.45"/>
</filter>
<filter id="bl2" x="-20%" y="-20%" width="140%" height="140%"><feGaussianBlur stdDeviation="1.6"/></filter>
<filter id="bl1" x="-20%" y="-20%" width="140%" height="140%"><feGaussianBlur stdDeviation="0.9"/></filter>
<filter id="bl4" x="-30%" y="-30%" width="160%" height="160%"><feGaussianBlur stdDeviation="4"/></filter>
<clipPath id="c1"><rect x="336.4" y="805.9" width="177.3" height="179.6"/></clipPath>
<clipPath id="c2"><rect x="337.5" y="991.1" width="177.3" height="179.6"/></clipPath>
</defs>
<rect x="336.4" y="805.9" width="177.3" height="179.6" fill="#000"/>
<g clip-path="url(#c1)">
<rect x="336.4" y="805.9" width="177.3" height="179.6" filter="url(#cellA)"/>
<path d="M330.0,842.0 C333.0,838.5 343.0,843.0 348.0,842.0 C353.0,841.0 356.0,837.9 360.0,836.0 C364.0,834.1 368.0,831.2 372.0,830.5 C376.0,829.8 380.0,831.9 384.0,832.0 C388.0,832.1 392.0,831.5 396.0,831.0 C400.0,830.5 404.0,830.0 408.0,829.0 C412.0,828.0 416.3,825.9 420.0,825.0 C423.7,824.1 426.7,823.3 430.0,823.5 C433.3,823.7 436.7,825.1 440.0,826.0 C443.3,826.9 446.7,828.0 450.0,829.0 C453.3,830.0 456.7,830.8 460.0,832.0 C463.3,833.2 466.8,835.0 470.0,836.0 C473.2,837.0 479.0,837.4 479.0,838.0 C479.0,838.6 473.2,839.2 470.0,839.5 C466.8,839.8 463.7,839.6 460.0,839.5 C456.3,839.4 452.0,839.2 448.0,839.0 C444.0,838.8 440.0,838.3 436.0,838.0 C432.0,837.7 428.3,837.0 424.0,837.0 C419.7,837.0 414.7,836.9 410.0,838.0 C405.3,839.1 400.3,841.7 396.0,843.5 C391.7,845.3 389.0,847.3 384.0,849.0 C379.0,850.7 372.0,851.8 366.0,853.5 C360.0,855.2 354.0,857.4 348.0,859.0 C342.0,860.6 333.0,865.8 330.0,863.0 C327.0,860.2 327.0,845.5 330.0,842.0Z" fill="#000" filter="url(#bl1)"/>
<path d="M330.0,947.5 C335.0,944.0 353.1,945.7 360.0,945.0 C366.9,944.3 367.7,944.3 371.6,943.5 C375.5,942.7 379.6,941.2 383.5,940.0 C387.4,938.8 391.4,937.6 395.3,936.4 C399.2,935.2 403.2,933.6 407.2,932.8 C411.1,932.0 415.0,932.4 419.0,931.6 C423.0,930.8 427.8,929.4 431.0,928.0 C434.2,926.6 435.2,925.0 438.0,923.3 C440.8,921.6 444.0,918.4 447.6,917.8 C451.2,917.2 455.8,919.2 459.4,919.7 C463.0,920.2 465.1,921.0 469.0,921.0 C472.9,921.0 478.3,920.7 483.0,919.7 C487.7,918.7 491.2,916.7 497.4,915.0 C503.6,913.3 516.2,905.9 520.0,909.5 C523.8,913.1 523.8,931.7 520.0,936.4 C516.2,941.1 504.3,937.5 497.4,937.5 C490.5,937.5 484.7,937.0 478.4,936.4 C472.1,935.8 464.9,934.2 459.4,934.0 C453.9,933.8 449.9,934.4 445.2,935.2 C440.5,936.0 436.1,937.3 431.0,938.7 C425.9,940.1 420.2,942.1 414.3,943.5 C408.4,944.9 401.2,945.4 395.3,947.0 C389.4,948.6 384.6,951.0 378.7,953.0 C372.8,955.0 367.8,956.8 359.7,959.0 C351.6,961.2 334.9,967.9 330.0,966.0 C325.1,964.1 325.0,951.0 330.0,947.5Z" fill="#000" filter="url(#bl1)"/>
<ellipse cx="507" cy="826" rx="9" ry="19" fill="#000" opacity="0.85" filter="url(#bl2)"/>
<ellipse cx="507.4" cy="906.0" rx="7.6" ry="15.2" fill="#000" opacity="0.35" filter="url(#bl2)"/>
<ellipse cx="383.3" cy="906.0" rx="4.6" ry="5.6" fill="#000" opacity="0.8" filter="url(#bl1)"/>
<ellipse cx="399.7" cy="897.1" rx="4.6" ry="5.6" fill="#000" opacity="0.8" filter="url(#bl1)"/>
<ellipse cx="417.5" cy="893.3" rx="4.6" ry="5.6" fill="#000" opacity="0.8" filter="url(#bl1)"/>
<ellipse cx="435.2" cy="897.1" rx="4.6" ry="5.6" fill="#000" opacity="0.8" filter="url(#bl1)"/>
<ellipse cx="449.1" cy="883.2" rx="4.6" ry="5.6" fill="#000" opacity="0.8" filter="url(#bl1)"/>
<ellipse cx="468.1" cy="887.0" rx="4.6" ry="5.6" fill="#000" opacity="0.8" filter="url(#bl1)"/>
<ellipse cx="482.1" cy="883.2" rx="4.6" ry="5.6" fill="#000" opacity="0.8" filter="url(#bl1)"/>
<ellipse cx="363.0" cy="884.4" rx="4.6" ry="5.6" fill="#000" opacity="0.8" filter="url(#bl1)"/>
<ellipse cx="378.2" cy="873.0" rx="4.6" ry="5.6" fill="#000" opacity="0.8" filter="url(#bl1)"/>
<ellipse cx="413.7" cy="862.9" rx="4.6" ry="5.6" fill="#000" opacity="0.8" filter="url(#bl1)"/>
<ellipse cx="432.7" cy="864.2" rx="4.6" ry="5.6" fill="#000" opacity="0.8" filter="url(#bl1)"/>
<ellipse cx="449.1" cy="860.4" rx="4.6" ry="5.6" fill="#000" opacity="0.8" filter="url(#bl1)"/>
<ellipse cx="471.9" cy="865.4" rx="4.6" ry="5.6" fill="#000" opacity="0.8" filter="url(#bl1)"/>
<ellipse cx="444.1" cy="961.7" rx="4.6" ry="5.6" fill="#000" opacity="0.8" filter="url(#bl1)"/>
<ellipse cx="464.3" cy="961.7" rx="4.6" ry="5.6" fill="#000" opacity="0.8" filter="url(#bl1)"/>
<ellipse cx="482.1" cy="964.2" rx="4.6" ry="5.6" fill="#000" opacity="0.8" filter="url(#bl1)"/>
<ellipse cx="428.9" cy="971.8" rx="4.6" ry="5.6" fill="#000" opacity="0.8" filter="url(#bl1)"/>
<ellipse cx="408.6" cy="974.4" rx="4.6" ry="5.6" fill="#000" opacity="0.8" filter="url(#bl1)"/>
<ellipse cx="365.5" cy="916.1" rx="4.6" ry="5.6" fill="#000" opacity="0.8" filter="url(#bl1)"/>
<ellipse cx="352.9" cy="900.9" rx="4.6" ry="5.6" fill="#000" opacity="0.8" filter="url(#bl1)"/>
<ellipse cx="494.7" cy="875.6" rx="4.6" ry="5.6" fill="#000" opacity="0.8" filter="url(#bl1)"/>
<ellipse cx="388.3" cy="974.4" rx="4.6" ry="5.6" fill="#000" opacity="0.8" filter="url(#bl1)"/>
<ellipse cx="368.1" cy="976.9" rx="4.6" ry="5.6" fill="#000" opacity="0.8" filter="url(#bl1)"/>
<path d="M460.0,839.5 C458.0,839.4 452.0,839.2 448.0,839.0 C444.0,838.8 440.0,838.3 436.0,838.0 C432.0,837.7 428.3,837.0 424.0,837.0 C419.7,837.0 414.7,836.9 410.0,838.0 C405.3,839.1 400.3,841.7 396.0,843.5 C391.7,845.3 389.0,847.3 384.0,849.0 C379.0,850.7 372.0,851.8 366.0,853.5 C360.0,855.2 354.0,857.4 348.0,859.0 C342.0,860.6 333.0,862.3 330.0,863.0" fill="none" stroke="#1c8a2a" stroke-width="1.4" opacity="0.6" filter="url(#bl1)"/>
<path d="M330.0,842.0 C333.0,842.0 343.0,843.0 348.0,842.0 C353.0,841.0 356.0,837.9 360.0,836.0 C364.0,834.1 368.0,831.2 372.0,830.5 C376.0,829.8 380.0,831.9 384.0,832.0 C388.0,832.1 392.0,831.5 396.0,831.0 C400.0,830.5 404.0,830.0 408.0,829.0 C412.0,828.0 416.3,825.9 420.0,825.0 C423.7,824.1 426.7,823.3 430.0,823.5 C433.3,823.7 436.7,825.1 440.0,826.0 C443.3,826.9 446.7,828.0 450.0,829.0 C453.3,830.0 456.7,830.8 460.0,832.0 C463.3,833.2 468.3,835.3 470.0,836.0" fill="none" stroke="#1c8a2a" stroke-width="1.4" opacity="0.6" filter="url(#bl1)"/>
<path d="M330.0,947.5 C335.0,947.1 353.1,945.7 360.0,945.0 C366.9,944.3 367.7,944.3 371.6,943.5 C375.5,942.7 379.6,941.2 383.5,940.0 C387.4,938.8 391.4,937.6 395.3,936.4 C399.2,935.2 403.2,933.6 407.2,932.8 C411.1,932.0 415.0,932.4 419.0,931.6 C423.0,930.8 427.8,929.4 431.0,928.0 C434.2,926.6 435.2,925.0 438.0,923.3 C440.8,921.6 444.0,918.4 447.6,917.8 C451.2,917.2 455.8,919.2 459.4,919.7 C463.0,920.2 465.1,921.0 469.0,921.0 C472.9,921.0 478.3,920.7 483.0,919.7 C487.7,918.7 491.2,916.7 497.4,915.0 C503.6,913.3 516.2,910.4 520.0,909.5" fill="none" stroke="#1c8a2a" stroke-width="1.4" opacity="0.6" filter="url(#bl1)"/>
<path d="M520.0,936.4 C516.2,936.6 504.3,937.5 497.4,937.5 C490.5,937.5 484.7,937.0 478.4,936.4 C472.1,935.8 464.9,934.2 459.4,934.0 C453.9,933.8 449.9,934.4 445.2,935.2 C440.5,936.0 436.1,937.3 431.0,938.7 C425.9,940.1 420.2,942.1 414.3,943.5 C408.4,944.9 401.2,945.4 395.3,947.0 C389.4,948.6 384.6,951.0 378.7,953.0 C372.8,955.0 367.8,956.8 359.7,959.0 C351.6,961.2 334.9,964.8 330.0,966.0" fill="none" stroke="#1c8a2a" stroke-width="1.4" opacity="0.6" filter="url(#bl1)"/>
</g>
<text x="347" y="829.8" font-family="Liberation Sans, Arial, sans-serif" font-size="19" font-weight="bold" font-style="italic" fill="#fff" textLength="43.5" lengthAdjust="spacingAndGlyphs">penk</text>
<text x="391.2" y="824" font-family="Liberation Sans, Arial, sans-serif" font-size="12.5" font-weight="bold" font-style="italic" fill="#fff" textLength="18" lengthAdjust="spacingAndGlyphs">+/+</text>
<text x="495.6" y="969.4" text-anchor="middle" font-family="Liberation Sans, Arial, sans-serif" font-size="10.5" font-weight="bold" fill="#fff" textLength="27" lengthAdjust="spacingAndGlyphs">50 µm</text>
<rect x="484" y="972.6" width="22" height="1.3" fill="#b9c6e0"/>
<rect x="491.4" y="974.8" width="2.2" height="1.6" fill="#19d6e0"/><rect x="496.6" y="974.8" width="2.2" height="1.6" fill="#19d6e0"/>
<rect x="337.5" y="991.1" width="177.3" height="179.6" fill="#000"/>
<g clip-path="url(#c2)">
<rect x="337.5" y="991.1" width="177.3" height="179.6" filter="url(#cellB)"/>
<ellipse cx="413.8" cy="1060.8" rx="22.8" ry="10.1" fill="#000" opacity="0.75" filter="url(#bl2)"/>
<ellipse cx="388.4" cy="1088.6" rx="10.1" ry="12.7" fill="#000" opacity="0.5" filter="url(#bl2)"/>
<ellipse cx="461.9" cy="1088.6" rx="15.2" ry="10.1" fill="#000" opacity="0.4" filter="url(#bl2)"/>
<ellipse cx="482.2" cy="1134.2" rx="15.2" ry="12.7" fill="#000" opacity="0.35" filter="url(#bl2)"/>
<ellipse cx="363.1" cy="1101.3" rx="20.3" ry="24.1" fill="#19a030" opacity="0.2" filter="url(#bl4)" style="mix-blend-mode:screen"/>
<ellipse cx="398.6" cy="1157.0" rx="15.2" ry="17.7" fill="#19a030" opacity="0.2" filter="url(#bl4)" style="mix-blend-mode:screen"/>
<ellipse cx="413.8" cy="1010.1" rx="38.0" ry="8.9" fill="#19a030" opacity="0.15" filter="url(#bl4)" style="mix-blend-mode:screen"/>
<ellipse cx="353.0" cy="1045.6" rx="12.7" ry="17.7" fill="#19a030" opacity="0.14" filter="url(#bl4)" style="mix-blend-mode:screen"/>
<path d="M330.0,982.0 L330.0,1040.3 L345.2,1020.0 L368.0,1007.3 L395.9,999.7 L418.7,995.9 L441.5,999.7 L461.7,1007.3 L482.0,1020.0 L499.7,1035.2 L517.5,1058.0 L522.6,1058.0 L522.6,982.0Z" fill="#000" filter="url(#bl2)"/>
</g>
<text x="348.6" y="1016" font-family="Liberation Sans, Arial, sans-serif" font-size="19" font-weight="bold" font-style="italic" fill="#fff" textLength="42.5" lengthAdjust="spacingAndGlyphs">penk</text>
<text x="391.6" y="1010" font-family="Liberation Sans, Arial, sans-serif" font-size="12.5" font-weight="bold" font-style="italic" fill="#fff" textLength="11.5" lengthAdjust="spacingAndGlyphs">-/-</text>
<text x="494.4" y="1153.6" text-anchor="middle" font-family="Liberation Sans, Arial, sans-serif" font-size="10.5" font-weight="bold" fill="#fff" textLength="27" lengthAdjust="spacingAndGlyphs">50 µm</text>
<rect x="483" y="1157" width="22" height="1.3" fill="#b9c6e0"/>
<rect x="490.4" y="1159.2" width="2.2" height="1.6" fill="#19d6e0"/><rect x="495.6" y="1159.2" width="2.2" height="1.6" fill="#19d6e0"/>
</svg></body></html>
